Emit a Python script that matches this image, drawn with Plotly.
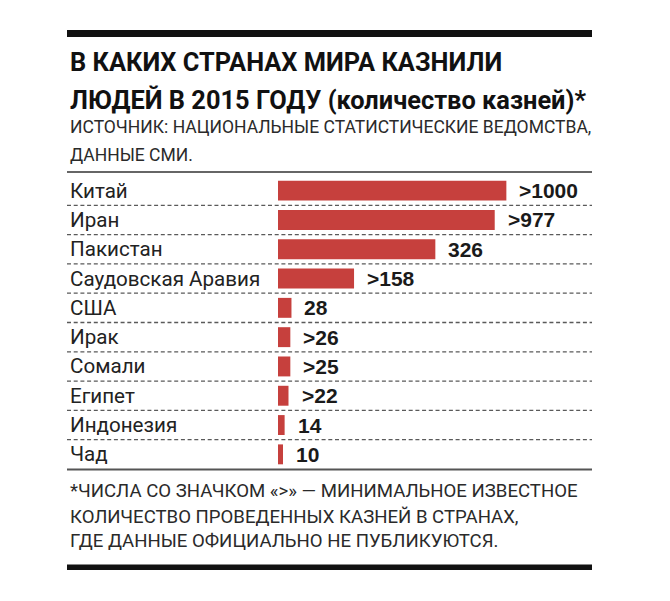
import plotly.graph_objects as go

# ---- data ----
countries = ["Китай", "Иран", "Пакистан", "Саудовская Аравия", "США",
             "Ирак", "Сомали", "Египет", "Индонезия", "Чад"]
value_labels = [">1000", ">977", "326", ">158", "28",
                ">26", ">25", ">22", "14", "10"]
# bar lengths as drawn in the infographic (scale where the China bar = 1000)
bar_lengths = [1000, 949, 689, 333, 59, 54, 54, 46, 29, 22]

title_lines = ["В КАКИХ СТРАНАХ МИРА КАЗНИЛИ",
               "ЛЮДЕЙ В 2015 ГОДУ (количество казней)*"]
source_lines = ["ИСТОЧНИК: НАЦИОНАЛЬНЫЕ СТАТИСТИЧЕСКИЕ ВЕДОМСТВА,",
                "ДАННЫЕ СМИ."]
note_lines = ["*ЧИСЛА СО ЗНАЧКОМ «>» — МИНИМАЛЬНОЕ ИЗВЕСТНОЕ",
              "КОЛИЧЕСТВО ПРОВЕДЕННЫХ КАЗНЕЙ В СТРАНАХ,",
              "ГДЕ ДАННЫЕ ОФИЦИАЛЬНО НЕ ПУБЛИКУЮТСЯ."]

# ---- layout geometry ----
W, H = 670, 601
ML, MR, MT, MB = 278, 78, 176, 132
PW, PH = W - ML - MR, H - MT - MB


def px_x(px):
    return (px - ML) / PW


def px_y(py):
    return (H - MB - py) / PH


BAR_RED = "#c6403d"
TEXT_FONT = "Roboto"

fig = go.Figure(go.Bar(
    x=bar_lengths,
    y=countries,
    orientation="h",
    marker=dict(color=BAR_RED, line=dict(width=0)),
    hoverinfo="skip",
))

annotations = []
# title
for txt, cy in zip(title_lines, [62.5, 99.5]):
    annotations.append(dict(
        text=f"<b>{txt}</b>", x=px_x(68), y=px_y(cy), xref="paper", yref="paper",
        xanchor="left", yanchor="middle", showarrow=False,
        font=dict(family=TEXT_FONT, size=25.4, color="#111111")))
# source
for txt, cy in zip(source_lines, [127, 155]):
    annotations.append(dict(
        text=txt, x=px_x(68), y=px_y(cy), xref="paper", yref="paper",
        xanchor="left", yanchor="middle", showarrow=False,
        font=dict(family=TEXT_FONT, size=17.5, color="#2a2a2a")))
# footnote
for txt, cy in zip(note_lines, [490.7, 516.5, 540.6]):
    annotations.append(dict(
        text=txt, x=px_x(68), y=px_y(cy), xref="paper", yref="paper",
        xanchor="left", yanchor="middle", showarrow=False,
        font=dict(family=TEXT_FONT, size=18.6, color="#2a2a2a")))
# country names
for c in countries:
    annotations.append(dict(
        text=c, x=px_x(68), y=c, xref="paper", yref="y",
        xanchor="left", yanchor="middle", showarrow=False,
        font=dict(family=TEXT_FONT, size=20.6, color="#222222")))
# value labels
for c, v, lab in zip(countries, bar_lengths, value_labels):
    annotations.append(dict(
        text=f"<b>{lab}</b>", x=v, y=c, xref="x", yref="y",
        xanchor="left", yanchor="middle", xshift=11, showarrow=False,
        font=dict(family="Liberation Sans", size=21, color="#1a1a1a")))

shapes = []
x0, x1 = px_x(67), px_x(592)
# top thick rule
shapes.append(dict(type="rect", xref="paper", yref="paper", x0=x0, x1=x1,
                   y0=px_y(37), y1=px_y(30), fillcolor="#111111", line=dict(width=0)))
# thin rule above list
shapes.append(dict(type="line", xref="paper", yref="paper", x0=x0, x1=x1,
                   y0=px_y(172), y1=px_y(172), line=dict(color="#333333", width=1.5)))
# dashed separators between rows
for i in range(len(countries) - 1):
    shapes.append(dict(type="line", xref="paper", yref="y", x0=x0, x1=x1,
                       y0=i + 0.5, y1=i + 0.5,
                       line=dict(color="#5a5a5a", width=1.3, dash="4px,2.7px")))
# thin rule below list
shapes.append(dict(type="line", xref="paper", yref="paper", x0=x0, x1=x1,
                   y0=px_y(469.5), y1=px_y(469.5), line=dict(color="#555555", width=2)))
# bottom thick rule
shapes.append(dict(type="rect", xref="paper", yref="paper", x0=x0, x1=x1,
                   y0=px_y(570), y1=px_y(564.5), fillcolor="#111111", line=dict(width=0)))

fig.update_layout(
    width=W, height=H,
    margin=dict(l=ML, r=MR, t=MT, b=MB),
    paper_bgcolor="white", plot_bgcolor="white",
    bargap=0.32,
    showlegend=False,
    xaxis=dict(range=[0, 1375], visible=False, fixedrange=True),
    yaxis=dict(autorange="reversed", visible=False, fixedrange=True),
    annotations=annotations,
    shapes=shapes,
)

fig.write_html(
    "out.html",
    config={"displayModeBar": False},
    post_script="document.body.style.margin='0';document.body.style.overflow='hidden';",
)
